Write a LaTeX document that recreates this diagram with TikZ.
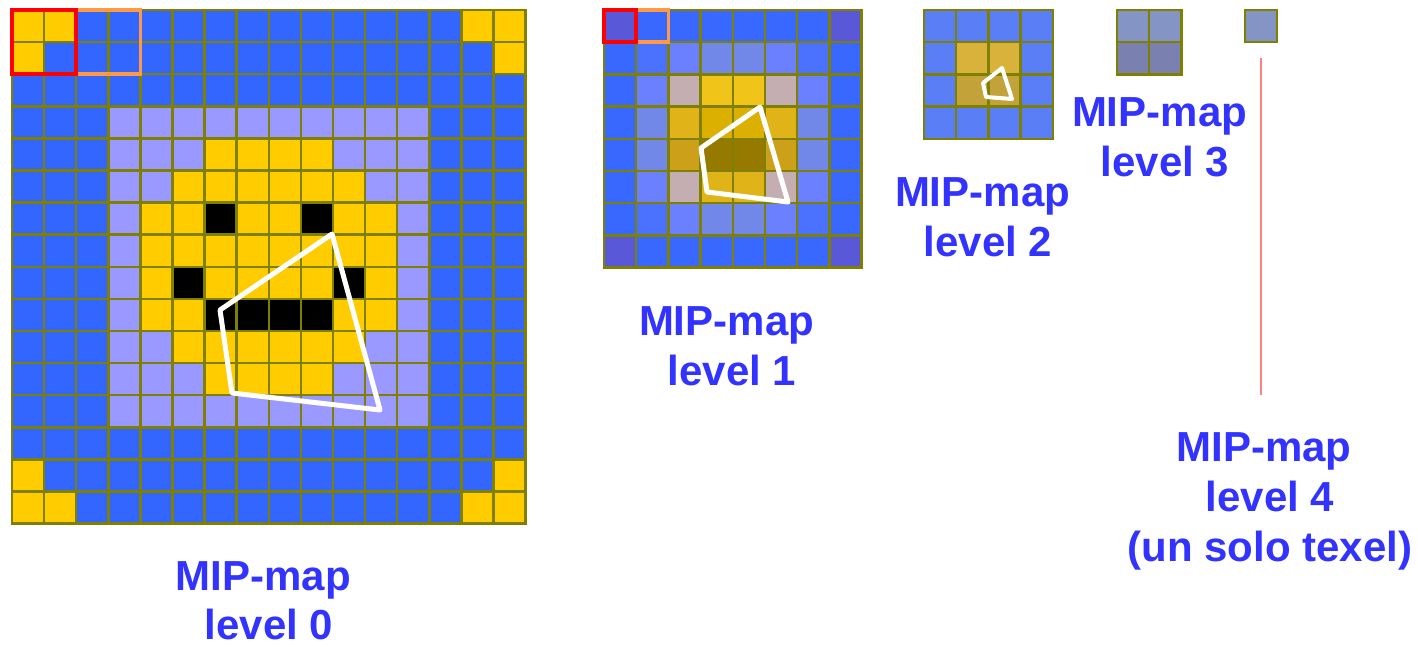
\documentclass[tikz,border=0pt]{standalone}
\usepackage{fontspec}
\setmainfont{Liberation Sans}
% level 0 palette
\definecolor{lzB}{HTML}{3366FF}
\definecolor{lzY}{HTML}{FFCC00}
\definecolor{lzL}{HTML}{9999FF}
\definecolor{lzK}{HTML}{000000}
% level 1 palette (filtered texels)
\definecolor{loP}{HTML}{5858D8}
\definecolor{loB}{HTML}{3868FF}
\definecolor{loC}{HTML}{4A72FF}
\definecolor{loL}{HTML}{6A80FF}
\definecolor{loG}{HTML}{7288E8}
\definecolor{loK}{HTML}{C4AEB2}
\definecolor{loY}{HTML}{F0C418}
\definecolor{loW}{HTML}{E0B418}
\definecolor{loX}{HTML}{DCB000}
\definecolor{loO}{HTML}{CCA018}
\definecolor{loD}{HTML}{967A00}
% levels 2-4
\definecolor{ltM}{HTML}{5A7EF5}
\definecolor{ltN}{HTML}{D8B23A}
\definecolor{ltO}{HTML}{C4A23A}
\definecolor{lhQ}{HTML}{8494C4}
\definecolor{lhR}{HTML}{7A80B0}
% strokes and text
\definecolor{gridolive}{HTML}{808000}
\definecolor{capblue}{HTML}{3333FF}
\definecolor{boxorange}{HTML}{FF9944}
\definecolor{stemred}{HTML}{FF8080}
\begin{document}
\begin{tikzpicture}[x=1pt,y=-1pt,
  texel/.style={draw=gridolive, line width=2.5pt},
  footprint/.style={draw=white, line width=5pt, line join=round},
  redbox/.style={draw=red, line width=4pt},
  orangebox/.style={draw=boxorange, line width=3.5pt},
  caption/.style={text=capblue, font=\fontsize{42}{50}\selectfont\bfseries,
                  anchor=base, inner sep=0pt}]
\useasboundingbox (0,0) rectangle (1418,646);

% ---- level 0: 16x16 texels ----
\foreach \rowcells [count=\r from 0] in {
  {Y,Y,B,B,B,B,B,B,B,B,B,B,B,B,Y,Y},
  {Y,B,B,B,B,B,B,B,B,B,B,B,B,B,B,Y},
  {B,B,B,B,B,B,B,B,B,B,B,B,B,B,B,B},
  {B,B,B,L,L,L,L,L,L,L,L,L,L,B,B,B},
  {B,B,B,L,L,L,Y,Y,Y,Y,L,L,L,B,B,B},
  {B,B,B,L,L,Y,Y,Y,Y,Y,Y,L,L,B,B,B},
  {B,B,B,L,Y,Y,K,Y,Y,K,Y,Y,L,B,B,B},
  {B,B,B,L,Y,Y,Y,Y,Y,Y,Y,Y,L,B,B,B},
  {B,B,B,L,Y,K,Y,Y,Y,Y,K,Y,L,B,B,B},
  {B,B,B,L,Y,Y,K,K,K,K,Y,Y,L,B,B,B},
  {B,B,B,L,L,Y,Y,Y,Y,Y,Y,L,L,B,B,B},
  {B,B,B,L,L,L,Y,Y,Y,Y,L,L,L,B,B,B},
  {B,B,B,L,L,L,L,L,L,L,L,L,L,B,B,B},
  {B,B,B,B,B,B,B,B,B,B,B,B,B,B,B,B},
  {Y,B,B,B,B,B,B,B,B,B,B,B,B,B,B,Y},
  {Y,Y,B,B,B,B,B,B,B,B,B,B,B,B,Y,Y}}{
  \foreach \c [count=\k from 0] in \rowcells {
    \draw[texel, fill=lz\c] ({12+32.1*\k},{10+32.1*\r}) rectangle ++(32.1,32.1);
  }
}
\draw[orangebox] (76.2,10) rectangle (140.4,74.2);
\draw[redbox] (12,10) rectangle (76.2,74.2);
\draw[footprint] (332,234) -- (220,310) -- (232,393) -- (380,410) -- cycle;

% ---- level 1: 8x8 texels ----
\foreach \rowcells [count=\r from 0] in {
  {P,B,B,B,B,B,B,P},
  {B,C,L,G,G,L,C,B},
  {B,L,K,Y,Y,K,L,B},
  {B,G,W,X,X,W,G,B},
  {B,G,O,D,D,O,G,B},
  {B,L,K,W,W,K,L,B},
  {B,C,L,G,G,L,C,B},
  {P,B,B,B,B,B,B,P}}{
  \foreach \c [count=\k from 0] in \rowcells {
    \draw[texel, fill=lo\c] ({604+32.2*\k},{10+32.2*\r}) rectangle ++(32.2,32.2);
  }
}
\draw[orangebox] (636.2,10) rectangle (668.4,42.2);
\draw[redbox] (604,10) rectangle (636.2,42.2);
\draw[footprint] (760,107) -- (701,148) -- (707,192) -- (788,202) -- cycle;

% ---- level 2: 4x4 texels ----
\foreach \rowcells [count=\r from 0] in {
  {M,M,M,M},
  {M,N,N,M},
  {M,O,O,M},
  {M,M,M,M}}{
  \foreach \c [count=\k from 0] in \rowcells {
    \draw[texel, fill=lt\c] ({924+32.2*\k},{10+32.2*\r}) rectangle ++(32.2,32.2);
  }
}
\draw[footprint, line width=4pt] (1002,68) -- (983,83) -- (986,97) -- (1012,99) -- cycle;

% ---- level 3: 2x2 texels ----
\foreach \rowcells [count=\r from 0] in {{Q,Q},{R,R}}{
  \foreach \c [count=\k from 0] in \rowcells {
    \draw[texel, fill=lh\c] ({1117+32.2*\k},{10+32.2*\r}) rectangle ++(32.2,32.2);
  }
}

% ---- level 4: a single texel ----
\draw[texel, fill=lhQ] (1245,10) rectangle ++(32.2,32.2);
\draw[stemred, line width=1.8pt] (1261,58) -- (1261,395);

% ---- captions ----
\node[caption] (capA0) at (263.5,590) {MIP-map};
\node[caption] (capB0) at (269,639) {level 0};
\node[caption] (capA1) at (726.5,335) {MIP-map};
\node[caption] (capB1) at (732,385) {level 1};
\node[caption] (capA2) at (982.5,206) {MIP-map};
\node[caption] (capB2) at (988,256) {level 2};
\node[caption] (capA3) at (1159.5,126) {MIP-map};
\node[caption] (capB3) at (1165,176) {level 3};
\node[caption] (capA4) at (1264,461) {MIP-map};
\node[caption] (capB4) at (1270,511) {level 4};
\node[caption] (capC4) at (1270,561) {(un solo texel)};
\end{tikzpicture}
\end{document}
